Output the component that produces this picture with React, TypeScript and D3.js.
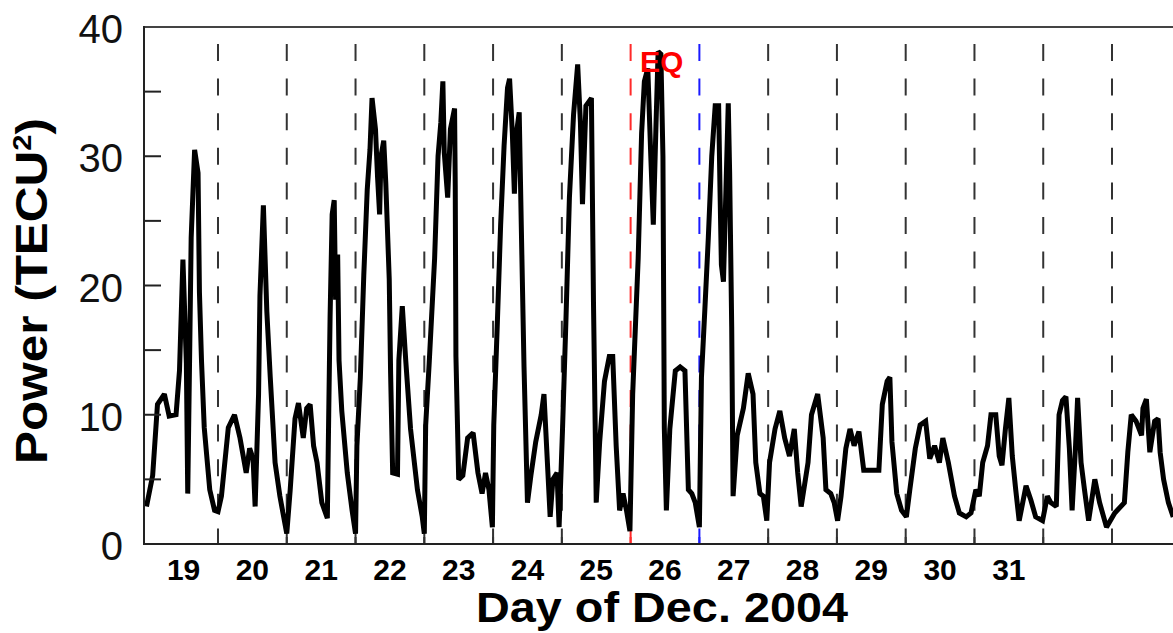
import React, { useEffect, useRef } from "react";
import { select, scaleLinear, line, range } from "d3";

// time in decimal day of December 2004 (UT), power in TECU^2
const dayTimes = [
  18.96, 19.05, 19.12, 19.22, 19.29, 19.39, 19.44, 19.49, 19.54, 19.56, 19.59, 19.61, 19.66, 19.71, 19.73, 19.76, 19.8, 19.88, 19.95,
  20.0, 20.05, 20.15, 20.24, 20.32, 20.41, 20.46, 20.51, 20.54, 20.59, 20.61, 20.66, 20.71, 20.76, 20.83, 20.9,
  21.0, 21.05, 21.12, 21.17, 21.24, 21.29, 21.34, 21.39, 21.44, 21.51, 21.59, 21.61, 21.63, 21.66, 21.69, 21.71, 21.74, 21.76, 21.8, 21.88, 21.95,
  22.0, 22.02, 22.07, 22.12, 22.17, 22.21, 22.24, 22.29, 22.32, 22.35, 22.37, 22.41, 22.44, 22.49, 22.51, 22.54, 22.61, 22.63, 22.68, 22.73, 22.8, 22.9, 22.97,
  23.0, 23.02, 23.07, 23.15, 23.2, 23.24, 23.27, 23.29, 23.34, 23.38, 23.44, 23.45, 23.46, 23.5, 23.56, 23.63, 23.71, 23.78, 23.84, 23.89, 23.94, 23.99,
  24.01, 24.06, 24.11, 24.16, 24.21, 24.24, 24.28, 24.31, 24.34, 24.38, 24.41, 24.45, 24.5, 24.55, 24.62, 24.7, 24.74, 24.79, 24.83, 24.87, 24.93, 24.96,
  25.01, 25.06, 25.11, 25.17, 25.23, 25.27, 25.3, 25.35, 25.43, 25.46, 25.5, 25.55, 25.62, 25.69, 25.74, 25.79, 25.84, 25.89, 25.94, 25.99,
  26.03, 26.11, 26.16, 26.2, 26.25, 26.29, 26.33, 26.37, 26.4, 26.44, 26.47, 26.48, 26.49, 26.52, 26.57, 26.65, 26.72, 26.79, 26.84, 26.89, 26.94,
  27.0, 27.03, 27.08, 27.13, 27.18, 27.23, 27.28, 27.3, 27.32, 27.35, 27.39, 27.42, 27.44, 27.47, 27.49, 27.55, 27.64, 27.71, 27.78, 27.82, 27.88, 27.93, 27.98,
  28.02, 28.1, 28.17, 28.24, 28.31, 28.38, 28.43, 28.48, 28.58, 28.63, 28.72, 28.8, 28.84, 28.91, 28.96,
  29.01, 29.06, 29.13, 29.19, 29.25, 29.32, 29.39, 29.49, 29.61, 29.66, 29.73, 29.77, 29.8, 29.87, 29.94,
  30.01, 30.06, 30.14, 30.21, 30.29, 30.35, 30.42, 30.49, 30.54, 30.62, 30.71, 30.78, 30.88, 30.95,
  31.02, 31.07, 31.12, 31.19, 31.24, 31.31, 31.36, 31.4, 31.45, 31.5, 31.55, 31.6, 31.65, 31.75, 31.82, 31.89, 31.99,
  32.06, 32.11, 32.19, 32.23, 32.28, 32.33, 32.38, 32.42, 32.47, 32.5, 32.55, 32.6, 32.66, 32.75, 32.82, 32.92,
  33.04, 33.18, 33.23, 33.28, 33.35, 33.43, 33.45, 33.5, 33.55, 33.62, 33.67, 33.7, 33.75, 33.82, 33.89,
];

const power = [
  2.9, 5.3, 10.8, 11.6, 9.9, 10.0, 13.4, 22.0, 14.0, 3.9, 15.5, 23.7, 30.5, 28.7, 19.5, 14.2, 9.0, 4.2, 2.6,
  2.5, 3.7, 9.0, 10.0, 8.2, 5.5, 7.4, 6.6, 2.9, 11.6, 19.2, 26.2, 18.0, 12.9, 6.3, 3.7,
  0.8, 4.2, 9.7, 10.9, 8.2, 10.5, 10.8, 7.6, 6.3, 3.2, 2.0, 10.0, 17.6, 25.5, 26.6, 18.9, 22.4, 14.2, 10.3, 5.5, 2.6,
  0.8, 7.6, 12.9, 20.8, 27.4, 30.5, 34.5, 32.1, 28.4, 25.5, 30.0, 31.2, 27.9, 20.5, 13.2, 5.5, 5.4, 14.2, 18.4, 14.2, 8.9, 4.2, 2.1,
  0.8, 9.2, 13.9, 22.1, 30.0, 32.6, 35.8, 30.3, 26.8, 32.1, 33.7, 27.6, 14.5, 5.0, 5.3, 8.2, 8.6, 5.5, 3.9, 5.5, 4.2, 1.3,
  9.2, 16.8, 24.7, 30.8, 35.3, 36.0, 31.8, 27.1, 31.8, 33.4, 24.7, 13.7, 3.2, 5.3, 7.9, 10.0, 11.6, 6.3, 2.1, 5.0, 5.5, 1.3,
  8.9, 17.4, 26.8, 33.2, 37.1, 32.6, 26.3, 33.9, 34.5, 18.7, 3.2, 7.9, 12.6, 14.5, 14.5, 7.6, 2.6, 3.9, 2.6, 1.0,
  11.6, 22.1, 31.8, 35.8, 36.8, 30.5, 24.7, 32.6, 38.1, 37.9, 30.0, 19.5, 9.0, 2.6, 8.9, 13.4, 13.7, 13.4, 4.2, 3.9, 3.2,
  1.3, 12.9, 18.2, 23.7, 30.0, 33.9, 33.9, 27.4, 21.6, 20.3, 28.2, 34.1, 28.7, 16.8, 3.7, 8.4, 10.5, 13.2, 11.6, 6.3, 3.9, 3.7, 1.8,
  6.3, 8.9, 10.3, 8.2, 6.8, 8.9, 5.5, 2.9, 6.3, 10.0, 11.6, 8.2, 4.2, 3.9, 3.2,
  1.8, 3.7, 7.4, 8.9, 7.6, 8.7, 5.7, 5.7, 5.7, 10.8, 12.6, 12.9, 7.9, 3.9, 2.6,
  2.1, 4.2, 7.4, 9.2, 9.5, 6.6, 7.6, 6.3, 8.2, 6.3, 3.7, 2.4, 2.1, 2.4,
  4.2, 3.7, 6.3, 7.6, 10.0, 10.0, 6.8, 6.1, 8.9, 11.3, 6.8, 4.2, 1.8, 4.5, 3.4, 2.1, 1.8,
  3.7, 3.2, 2.9, 10.0, 11.1, 11.4, 7.4, 2.6, 7.6, 11.3, 6.3, 4.2, 1.8, 5.0, 3.2, 1.3,
  2.4, 3.2, 7.1, 10.0, 9.5, 8.4, 10.5, 11.2, 7.1, 9.5, 9.7, 7.1, 5.0, 3.2, 2.1,
];

const dayLabels = ["19", "20", "21", "22", "23", "24", "25", "26", "27", "28", "29", "30", "31"];
const dayBoundaries = [20, 21, 22, 23, 24, 25, 26, 27, 28, 29, 30, 31, 32, 33];
const yTickLabels = [0, 10, 20, 30, 40];
const eqDay = 26;
const endDay = 27;

const W = 1173,
  H = 633;
const font = "'Liberation Sans', Arial, sans-serif";

const App = () => {
  const svgRef = useRef(null);

  useEffect(() => {
    const svg = select(svgRef.current);
    svg.selectAll("*").remove();

    const x = scaleLinear().domain([18.924, 33.887]).range([144, 1173]);
    const y = scaleLinear().domain([0, 40]).range([544, 27]);

    svg.append("defs").append("clipPath").attr("id", "plot")
      .append("rect").attr("x", 144).attr("y", 0).attr("width", W - 144).attr("height", 546);

    const sepColor = (d) => (d === eqDay ? "#ff2a2a" : d === endDay ? "#1a1aff" : "#333");

    // day separators
    svg.append("g")
      .selectAll("line")
      .data(dayBoundaries)
      .enter()
      .append("line")
      .attr("x1", (d) => x(d))
      .attr("x2", (d) => x(d))
      .attr("y1", 44)
      .attr("y2", y(0))
      .attr("stroke", sepColor)
      .attr("stroke-width", 2)
      .attr("stroke-dasharray", "17,17.6");

    // bottom ticks
    svg.append("g")
      .selectAll("line")
      .data(dayBoundaries)
      .enter()
      .append("line")
      .attr("x1", (d) => x(d))
      .attr("x2", (d) => x(d))
      .attr("y1", y(0) - 7)
      .attr("y2", y(0))
      .attr("stroke", sepColor)
      .attr("stroke-width", 2);

    // data line
    const pts = dayTimes.map((d, i) => [d, power[i]]);
    svg.append("path")
      .datum(pts)
      .attr("clip-path", "url(#plot)")
      .attr("fill", "none")
      .attr("stroke", "#000")
      .attr("stroke-width", 5)
      .attr("stroke-linejoin", "miter")
      .attr("stroke-miterlimit", 2)
      .attr("d", line().x((d) => x(d[0])).y((d) => y(d[1])));

    // frame
    svg.append("line").attr("x1", 144).attr("x2", W).attr("y1", y(40)).attr("y2", y(40))
      .attr("stroke", "#444").attr("stroke-width", 2);
    svg.append("line").attr("x1", 144).attr("x2", W).attr("y1", y(0)).attr("y2", y(0))
      .attr("stroke", "#222").attr("stroke-width", 2);
    svg.append("line").attr("x1", 144).attr("x2", 144).attr("y1", y(40) - 1).attr("y2", y(0) + 1)
      .attr("stroke", "#222").attr("stroke-width", 2);

    // y ticks every 5
    svg.append("g")
      .selectAll("line")
      .data(range(5, 40, 5))
      .enter()
      .append("line")
      .attr("x1", 144)
      .attr("x2", 161)
      .attr("y1", (d) => y(d))
      .attr("y2", (d) => y(d))
      .attr("stroke", "#222")
      .attr("stroke-width", 2);

    svg.append("g")
      .selectAll("text")
      .data(yTickLabels)
      .enter()
      .append("text")
      .text((d) => d)
      .attr("x", 123)
      .attr("y", (d) => y(d) + 16)
      .attr("text-anchor", "end")
      .attr("font-family", font)
      .attr("font-size", 40)
      .attr("fill", "#111");

    svg.append("g")
      .selectAll("text")
      .data(dayLabels)
      .enter()
      .append("text")
      .text((d) => d)
      .attr("x", (d) => x(+d + 0.5))
      .attr("y", 580)
      .attr("text-anchor", "middle")
      .attr("font-family", font)
      .attr("font-weight", "bold")
      .attr("font-size", 30)
      .attr("fill", "#000");

    // EQ marker
    svg.append("text")
      .text("EQ")
      .attr("x", 640)
      .attr("y", 72)
      .attr("font-family", font)
      .attr("font-weight", "bold")
      .attr("font-size", 30)
      .attr("fill", "#ff0000");

    // axis titles
    svg.append("text")
      .text("Day of Dec. 2004")
      .attr("x", 662)
      .attr("y", 622)
      .attr("text-anchor", "middle")
      .attr("textLength", 372)
      .attr("lengthAdjust", "spacingAndGlyphs")
      .attr("font-family", font)
      .attr("font-weight", "bold")
      .attr("font-size", 43)
      .attr("fill", "#000");

    const yt = svg.append("text")
      .attr("transform", "translate(47,291) rotate(-90)")
      .attr("text-anchor", "middle")
      .attr("textLength", 346)
      .attr("lengthAdjust", "spacingAndGlyphs")
      .attr("font-family", font)
      .attr("font-weight", "bold")
      .attr("font-size", 44)
      .attr("fill", "#000");
    yt.append("tspan").text("Power (TECU");
    yt.append("tspan").text("2").attr("font-size", 26).attr("dy", -16);
    yt.append("tspan").text(")").attr("dy", 16);
  }, []);

  return (
    <svg
      ref={svgRef}
      width={W}
      height={H}
      style={{ position: "absolute", left: 0, top: 0, background: "#fff" }}
    ></svg>
  );
};

export default App;
